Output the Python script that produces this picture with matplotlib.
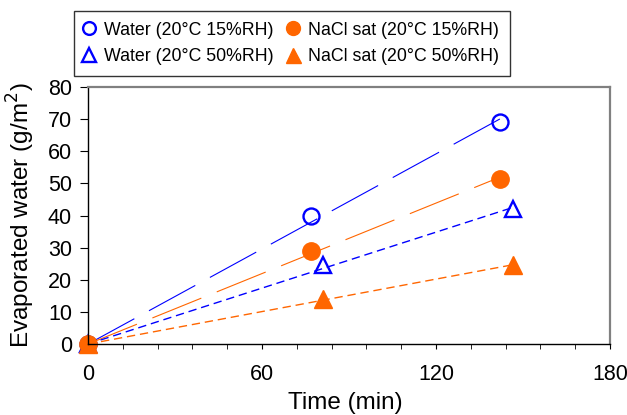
import numpy as np
import matplotlib.pyplot as plt
from matplotlib.ticker import MultipleLocator

plt.rcParams['font.family'] = ['Liberation Sans', 'DejaVu Sans']
plt.rcParams['lines.scale_dashes'] = False

# data
t_w15 = [0, 77, 142]
y_w15 = [0, 40, 69]
t_n15 = [0, 77, 142]
y_n15 = [0, 29, 51.5]
t_w50 = [0, 81, 146.5]
y_w50 = [0, 24.5, 42]
t_n50 = [0, 81, 146.5]
y_n50 = [0, 14, 24.5]

blue = '#0000FF'
orange = '#FF6600'

fig = plt.figure(figsize=(6.27, 4.15), dpi=100)
ax = fig.add_axes([0.1404, 0.171, 0.8326, 0.619])

def fit_line(t, y):
    t = np.array(t, float); y = np.array(y, float)
    k = (t * y).sum() / (t * t).sum()
    return [0, t[-1]], [0, k * t[-1]]

# trend lines (through origin)
x, yy = fit_line(t_w15, y_w15)
ax.plot(x, yy, color=blue, lw=0.8, dashes=(38, 12))
x, yy = fit_line(t_n15, y_n15)
ax.plot(x, yy, color=orange, lw=0.8, dashes=(38, 12))
x, yy = fit_line(t_w50, y_w50)
ax.plot(x, yy, color=blue, lw=1.0, dashes=(6, 3.5))
x, yy = fit_line(t_n50, y_n50)
ax.plot(x, yy, color=orange, lw=1.0, dashes=(6, 3.5))

h1, = ax.plot(t_w15, y_w15, 'o', ms=11.5, mfc='none', mec=blue, mew=1.7, ls='none',
              label='Water (20°C 15%RH)', clip_on=False)
h2, = ax.plot(t_w50, y_w50, '^', ms=12, mfc='none', mec=blue, mew=1.7, ls='none',
              label='Water (20°C 50%RH)', clip_on=False)
h3, = ax.plot(t_n15, y_n15, 'o', ms=12.5, color=orange, ls='none',
              label='NaCl sat (20°C 15%RH)', clip_on=False)
h4, = ax.plot(t_n50, y_n50, '^', ms=13.5, color=orange, ls='none',
              label='NaCl sat (20°C 50%RH)', clip_on=False)

ax.set_xlim(0, 180)
ax.set_ylim(0, 80)
ax.xaxis.set_major_locator(MultipleLocator(60))
ax.xaxis.set_minor_locator(MultipleLocator(12))
ax.yaxis.set_major_locator(MultipleLocator(10))
ax.tick_params(which='both', direction='out', labelsize=15.5, color='black')
ax.tick_params(axis='y', length=5.5, pad=6)
ax.tick_params(axis='x', which='both', length=3.5, pad=11)

for s in ['top', 'right']:
    ax.spines[s].set_color('#808080')
    ax.spines[s].set_linewidth(1.6)
for s in ['left', 'bottom']:
    ax.spines[s].set_color('black')
    ax.spines[s].set_linewidth(1.0)

ax.set_xlabel('Time (min)', fontsize=17.5, labelpad=5)
ax.xaxis.label.set_x(0.492)
ax.set_ylabel('Evaporated water (g/m$^2$)', fontsize=17.5, labelpad=8)

fig.legend(handles=[h1, h2, h3, h4], ncol=2, fontsize=12.8,
           loc='upper left', bbox_to_anchor=(0.118, 0.9735), borderaxespad=0,
           frameon=True, fancybox=False, edgecolor='black',
           handletextpad=0.6, columnspacing=0.85, borderpad=0.6,
           labelspacing=0.55, handlelength=0.5, markerscale=0.8)

fig.savefig('out.png', dpi=100)
